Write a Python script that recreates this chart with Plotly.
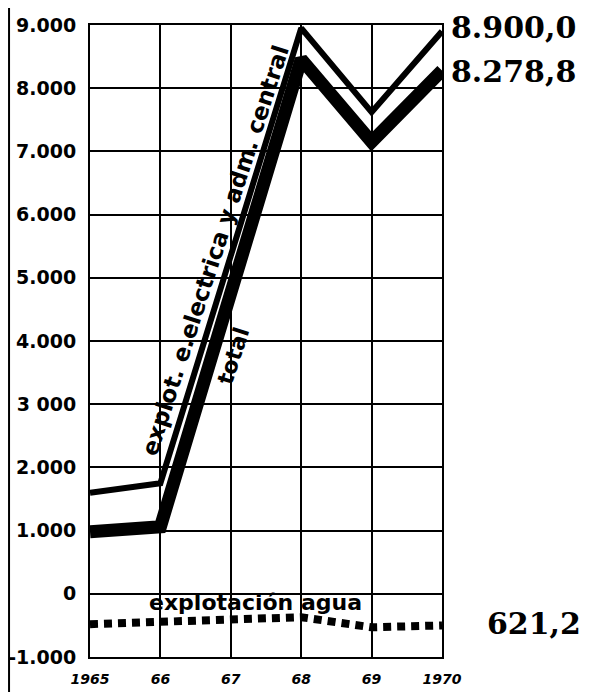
import plotly.graph_objects as go

years = [1965, 1966, 1967, 1968, 1969, 1970]
year_labels = ["1965", "66", "67", "68", "69", "1970"]
explot_electrica = [1600, 1750, 5350, 8950, 7620, 8900.0]
total = [980, 1060, 4760, 8460, 7150, 8278.8]
explot_agua = [-480, -440, -390, -370, -530, -500]
y_ticks = [9000, 8000, 7000, 6000, 5000, 4000, 3000, 2000, 1000, 0, -1000]
y_tick_labels = ["9.000", "8.000", "7.000", "6.000", "5.000", "4.000", "3 000",
                 "2.000", "1.000", "0", "-1.000"]
end_labels = ["8.900,0", "8.278,8", "621,2"]

SANS = "DejaVu Sans"
SERIF = "DejaVu Serif"

fig = go.Figure()
fig.add_trace(go.Scatter(x=years, y=explot_agua, mode="lines",
                         line=dict(color="black", width=8, dash="8px,6px"),
                         cliponaxis=False, showlegend=False))
fig.add_trace(go.Scatter(x=years, y=explot_electrica, mode="lines",
                         line=dict(color="black", width=6),
                         cliponaxis=False, showlegend=False))
fig.add_trace(go.Scatter(x=years, y=total, mode="lines",
                         line=dict(color="black", width=13),
                         cliponaxis=False, showlegend=False))

# end value labels
fig.add_annotation(x=1970, y=explot_electrica[-1], text=end_labels[0], xref="x", yref="y",
                   xanchor="left", xshift=7, yshift=4, showarrow=False,
                   font=dict(family=SERIF, size=30, color="black", weight="bold"))
fig.add_annotation(x=1970, y=total[-1], text=end_labels[1], xref="x", yref="y",
                   xanchor="left", xshift=7, yshift=-1, showarrow=False,
                   font=dict(family=SERIF, size=30, color="black", weight="bold"))
fig.add_annotation(x=1970, y=explot_agua[-1], text=end_labels[2], xref="x", yref="y",
                   xanchor="left", xshift=43, yshift=2, showarrow=False,
                   font=dict(family=SERIF, size=30, color="black", weight="bold"))

# series labels
fig.add_annotation(x=1966.78, y=5440, text="explot. e.electrica y adm. central",
                   textangle=-72, showarrow=False,
                   font=dict(family=SANS, size=23, color="black", weight="bold"))
fig.add_annotation(x=1967.04, y=3770, text="total", textangle=-72, showarrow=False,
                   font=dict(family=SANS, size=22, color="black", weight="bold"))
fig.add_annotation(x=1967.35, y=-140, text="explotación agua", showarrow=False,
                   font=dict(family=SANS, size=22, color="black", weight="bold"))

# page edge line at left
fig.add_shape(type="line", xref="paper", yref="paper", x0=-0.230, x1=-0.230,
              y0=-0.06, y1=1.05, line=dict(color="black", width=2))

fig.update_xaxes(range=[1965, 1970], tickvals=years, ticktext=year_labels,
                 showgrid=True, gridcolor="black", gridwidth=1.5,
                 showline=True, linecolor="black", linewidth=2, mirror=True,
                 zeroline=False, ticks="", ticklabelstandoff=8, automargin=False,
                 tickfont=dict(family=SANS, size=14, color="black",
                               weight="bold", style="italic"))
fig.update_yaxes(range=[-1000, 9000], tickvals=y_ticks, ticktext=y_tick_labels,
                 showgrid=True, gridcolor="black", gridwidth=1.5,
                 showline=True, linecolor="black", linewidth=2, mirror=True,
                 zeroline=False, ticks="", ticklabelstandoff=8, automargin=False,
                 tickfont=dict(family=SANS, size=19, color="black", weight="bold"))

# the page adds an 8px body margin; size the figure so the plot lands where the reference has it
fig.update_layout(width=581, height=684, margin=dict(l=82, r=147, t=17, b=35),
                  plot_bgcolor="white", paper_bgcolor="white", showlegend=False)

fig.write_html("out.html")
